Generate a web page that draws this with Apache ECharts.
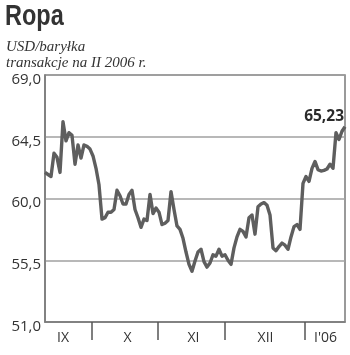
<!DOCTYPE html>
<html>
<head>
<meta charset="utf-8">
<script src="https://cdn.jsdelivr.net/npm/echarts@6/dist/echarts.min.js"></script>
<style>
html,body{margin:0;padding:0;background:#fff;}
#c{width:350px;height:355px;}
</style>
</head>
<body>
<div id="c"></div>
<script>
// Oil price (USD/barrel), February 2006 contract, trading-day sequence
var prices = [
  61.9, 61.75, 61.6, 63.3, 63.0, 61.9, 65.6, 64.2, 64.8, 64.6,
  62.5, 63.9, 62.95, 63.9, 63.8, 63.6, 63.1, 62.2, 61.0, 58.5,
  58.6, 59.0, 59.0, 59.2, 60.6, 60.2, 59.6, 59.6, 60.3, 60.6,
  59.2, 58.6, 57.9, 58.5, 58.4, 60.3, 58.9, 59.3, 59.0, 58.1,
  58.2, 58.4, 60.5, 59.2, 58.0, 57.75, 57.1, 56.1, 55.2, 54.7,
  55.45, 56.1, 56.3, 55.4, 55.0, 55.3, 55.9, 55.8, 56.3, 55.8,
  55.9, 55.5, 55.2, 56.4, 57.2, 57.75, 57.6, 57.2, 58.6, 58.8,
  57.4, 59.4, 59.6, 59.7, 59.5, 58.8, 56.4, 56.2, 56.5, 56.75,
  56.6, 56.3, 57.2, 57.95, 58.1, 57.75, 61.1, 61.6, 61.25, 62.2,
  62.7, 62.1, 62.0, 62.05, 62.15, 62.5, 62.2, 64.8, 64.3, 64.9,
  65.23
];
var monthLabels = ['IX', 'X', 'XI', 'XII', "I'06"];
var monthLabelAt = [6, 27.5, 49.5, 73.5, 93.5];   // day index of each month label
var monthBounds = [15.5, 37.5, 60, 86.5];         // day index of month boundaries
var yTicks = [51, 55.5, 60, 64.5, 69];
var lastLabel = '65,23';

var seriesData = prices.map(function (v, i) { return [i, v]; });
var lastIdx = prices.length - 1;

var chart = echarts.init(document.getElementById('c'), null, {renderer: 'canvas'});
chart.setOption({
  animation: false,
  backgroundColor: '#fff',
  graphic: [
    {
      type: 'text', left: 5, top: 2, scaleX: 0.81,
      style: {text: 'Ropa', font: 'bold 29px "Liberation Sans", Arial, sans-serif', fill: '#333'}
    },
    {
      type: 'text', left: 6, top: 40,
      style: {text: 'USD/baryłka', font: 'italic 15px "Liberation Serif", serif', fill: '#333'}
    },
    {
      type: 'text', left: 6, top: 56,
      style: {text: 'transakcje na II 2006 r.', font: 'italic 15px "Liberation Serif", serif', fill: '#333'}
    }
  ],
  grid: {
    left: 45, right: 5, top: 75, bottom: 33,
    show: true, borderColor: '#7a7a7a', borderWidth: 1.5, backgroundColor: 'transparent'
  },
  xAxis: {
    type: 'value', min: 0, max: lastIdx,
    axisLine: {show: true, lineStyle: {color: '#7a7a7a', width: 1.5}},
    axisTick: {
      show: true, inside: false, length: 18, customValues: monthBounds,
      lineStyle: {color: '#555', width: 1.5}
    },
    axisLabel: {
      show: true, customValues: monthLabelAt, margin: 9,
      fontFamily: 'Open Sans', fontSize: 14, color: '#333',
      formatter: function (v) {
        var k = monthLabelAt.indexOf(v);
        return k >= 0 ? monthLabels[k] : '';
      }
    },
    splitLine: {show: false}
  },
  yAxis: {
    type: 'value', min: 51, max: 69,
    axisLine: {show: true, lineStyle: {color: '#7a7a7a', width: 1.5}},
    axisTick: {show: false, customValues: yTicks},
    axisLabel: {
      show: true, customValues: yTicks, margin: 4,
      fontFamily: 'Open Sans', fontSize: 15, color: '#333',
      verticalAlign: 'top', lineHeight: 9,
      formatter: function (v) { return v.toFixed(1).replace('.', ','); }
    },
    splitLine: {show: true, lineStyle: {color: '#a0a0a0', width: 1.5}}
  },
  series: [{
    type: 'line',
    data: seriesData,
    symbol: 'none',
    smooth: false,
    lineStyle: {color: '#5e5e5e', width: 3.4, join: 'round'},
    z: 5,
    markPoint: {
      symbol: 'circle', symbolSize: 0, silent: true,
      data: [{coord: [lastIdx, prices[lastIdx]], value: prices[lastIdx]}],
      label: {
        show: true, position: 'top', align: 'right', distance: 2, offset: [-1, 0],
        formatter: lastLabel,
        fontFamily: 'Open Sans', fontWeight: 'bold', fontSize: 15.5, color: '#2a2a2a'
      }
    }
  }]
});
</script>
</body>
</html>
